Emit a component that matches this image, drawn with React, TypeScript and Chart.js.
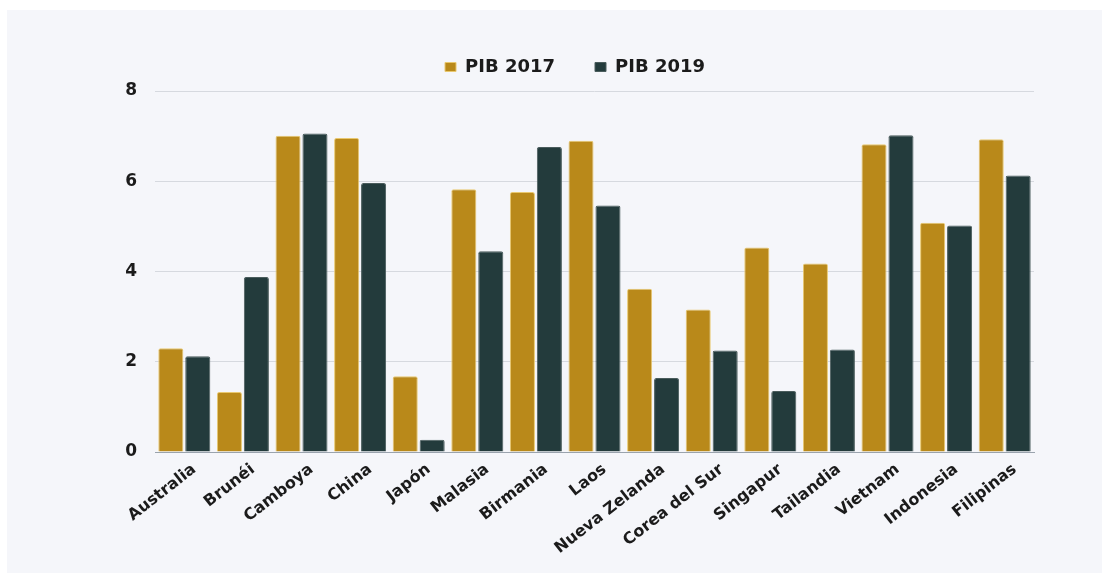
import React, { useEffect, useRef } from "react";
import { Chart, registerables } from "chart.js";

Chart.register(...registerables);

const categories = [
  "Australia", "Brunéi", "Camboya", "China", "Japón", "Malasia", "Birmania", "Laos",
  "Nueva Zelanda", "Corea del Sur", "Singapur", "Tailandia", "Vietnam", "Indonesia", "Filipinas",
];
const pib2017 = [2.3, 1.33, 7.01, 6.96, 1.68, 5.82, 5.76, 6.9, 3.62, 3.16, 4.53, 4.18, 6.82, 5.08, 6.93];
const pib2019 = [2.12, 3.88, 7.06, 5.96, 0.27, 4.45, 6.76, 5.46, 1.64, 2.25, 1.35, 2.27, 7.02, 5.02, 6.13];
const yTicks = [0, 2, 4, 6, 8];

const FONT = "'DejaVu Sans', sans-serif";

export default function App() {
  const ref = useRef<HTMLCanvasElement | null>(null);

  useEffect(() => {
    if (!ref.current) return;
    const legendMargin = {
      id: "legendMargin",
      beforeInit(chart: any) {
        const orig = chart.legend.fit;
        chart.legend.fit = function () {
          orig.bind(chart.legend)();
          this.height += 5;
        };
      },
    };
    const chart = new Chart(ref.current, {
      type: "bar",
      data: {
        labels: categories,
        datasets: [
          {
            label: "PIB 2017",
            data: pib2017,
            backgroundColor: "#b9891a",
            borderColor: "#e9c86f",
            borderWidth: 1,
            borderRadius: 2,
            borderSkipped: "bottom",
          },
          {
            label: "PIB 2019",
            data: pib2019,
            backgroundColor: "#233b3c",
            borderColor: "#4a5c5c",
            borderWidth: 1,
            borderRadius: 2,
            borderSkipped: "bottom",
          },
        ],
      },
      options: {
        animation: false,
        responsive: false,
        maintainAspectRatio: false,
        layout: { padding: { top: 8, right: 68, left: 109, bottom: 0 } },
        datasets: { bar: { categoryPercentage: 0.92, barPercentage: 0.93 } } as any,
        plugins: {
          legend: {
            position: "top",
            align: "center",
            labels: {
              boxWidth: 11,
              boxHeight: 9,
              padding: 40,
              color: "#1b1b1b",
              font: { family: FONT, size: 18, weight: "bold" },
            },
          },
          tooltip: { enabled: false },
        },
        scales: {
          x: {
            grid: { display: false, drawTicks: false },
            border: { display: true, color: "#9aa3ad", width: 1 },
            ticks: {
              color: "#1b1b1b",
              font: { family: FONT, size: 16, weight: "bold" },
              minRotation: 38,
              maxRotation: 38,
              autoSkip: false,
              padding: 8,
              labelOffset: 10,
            },
            afterFit: (s: any) => {
              s.height = 121;
            },
          },
          y: {
            min: 0,
            max: 8,
            afterBuildTicks: (s: any) => {
              s.ticks = yTicks.map((v) => ({ value: v }));
            },
            grid: { color: "#d6d9df", drawTicks: false, lineWidth: 1 },
            border: { display: false },
            ticks: {
              color: "#1b1b1b",
              font: { family: FONT, size: 17, weight: "bold" },
              padding: 18,
            },
            afterFit: (s: any) => {
              s.width = 39;
            },
          },
        },
      },
      plugins: [legendMargin],
    });
    return () => chart.destroy();
  }, []);

  return (
    <div
      style={{
        position: "absolute",
        left: 7,
        top: 10,
        width: 1095,
        height: 563,
        background: "#f5f6fa",
      }}
    >
      <canvas ref={ref} width={1095} height={563} style={{ display: "block" }} />
    </div>
  );
}
